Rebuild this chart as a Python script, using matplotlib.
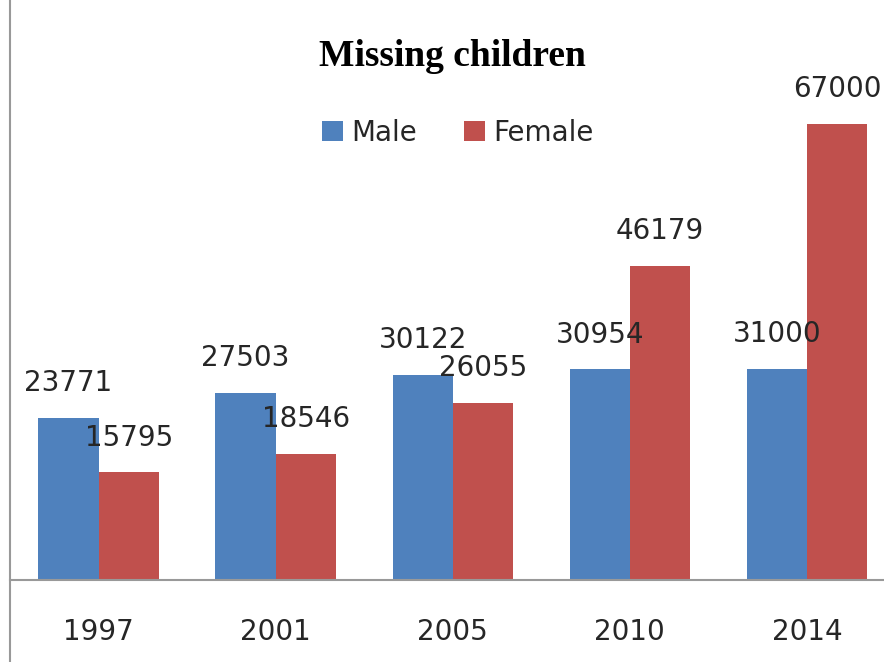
import matplotlib.pyplot as plt
import numpy as np
from matplotlib.lines import Line2D

# data
years = ["1997", "2001", "2005", "2010", "2014"]
male = [23771, 27503, 30122, 30954, 31000]
female = [15795, 18546, 26055, 46179, 67000]

blue = "#4F81BD"
red = "#C0504D"

W, H = 884, 662
fig = plt.figure(figsize=(W / 100, H / 100), dpi=100)

# plot area: left edge at x=10, baseline at y=580 (pixels)
ax = fig.add_axes([10 / W, 82 / H, 885.5 / W, 580 / H])

x = np.arange(len(years))
bw = 0.34
ax.bar(x - bw / 2, male, bw, color=blue, label="Male")
ax.bar(x + bw / 2, female, bw, color=red, label="Female")

# value labels above bars
for xi, v in zip(x - bw / 2, male):
    ax.annotate(str(v), (xi, v), xytext=(0, 25), textcoords="offset points",
                ha="center", va="center", fontsize=20, color="#262626")
for xi, v in zip(x + bw / 2, female):
    ax.annotate(str(v), (xi, v), xytext=(0, 25), textcoords="offset points",
                ha="center", va="center", fontsize=20, color="#262626")

ax.set_xlim(-0.5, 4.5)
ax.set_ylim(0, 85200)
ax.set_xticks(x)
ax.set_xticklabels(years, fontsize=20, color="#262626")
ax.tick_params(axis="x", length=0, pad=27)
ax.set_yticks([])

for s in ["top", "right", "left"]:
    ax.spines[s].set_visible(False)
ax.spines["bottom"].set_color("#999999")
ax.spines["bottom"].set_linewidth(1.5)

# left border runs the full height
fig.add_artist(Line2D([10 / W, 10 / W], [0, 1], transform=fig.transFigure,
                      color="#999999", linewidth=1.5))

fig.text(452 / W, 1 - 56 / H, "Missing children", ha="center", va="center",
         fontsize=27, fontweight="bold", family="Liberation Serif")

leg = ax.legend(loc="center", bbox_to_anchor=(458 / W, 1 - 133 / H),
                bbox_transform=fig.transFigure, ncol=2, frameon=False,
                fontsize=20, handlelength=0.75, handleheight=0.75,
                handletextpad=0.3, columnspacing=1.7)
for t in leg.get_texts():
    t.set_color("#262626")

fig.savefig("out.png", dpi=100)
